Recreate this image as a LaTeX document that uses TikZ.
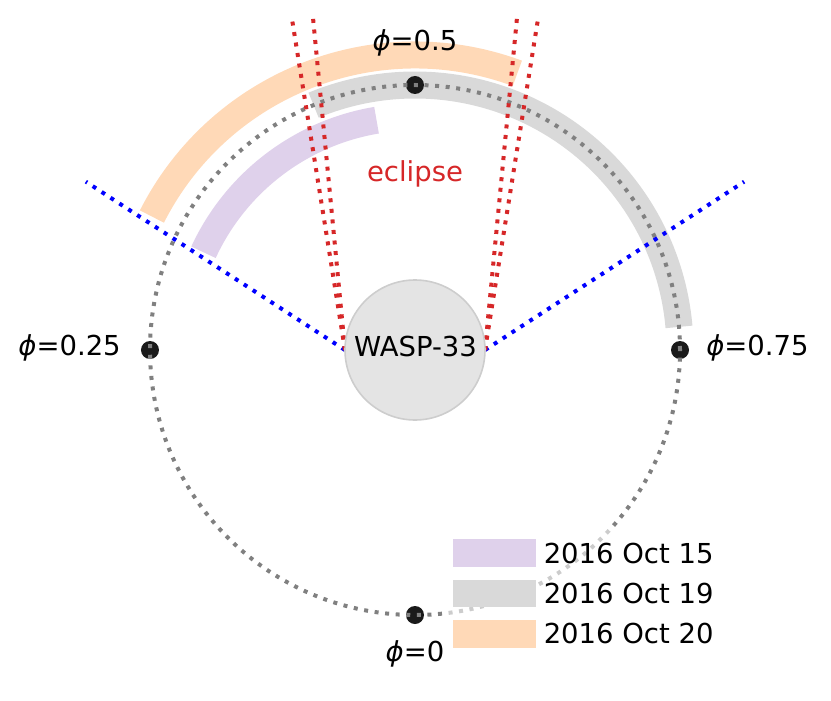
\documentclass[tikz,border=0pt]{standalone}
\usepackage{fontspec}
\setmainfont{DejaVu Sans}[ItalicFont={DejaVu Sans Oblique}]
\definecolor{orbitgray}{HTML}{808080}
\definecolor{tabred}{HTML}{D62728}
\definecolor{pureblue}{HTML}{0000FF}
\definecolor{bandorange}{HTML}{FFD9B7}
\definecolor{bandpurple}{HTML}{DFD1EB}
\definecolor{bandgray}{HTML}{D9D9D9}
\definecolor{starfill}{HTML}{E4E4E4}
\definecolor{staredge}{HTML}{CDCDCD}
\definecolor{dotblack}{HTML}{1A1A1A}
\begin{document}
\begin{tikzpicture}[x=0.75pt,y=0.75pt,
  dotline/.style={line width=3pt, dash pattern=on 3pt off 4.95pt},
  band/.style={line width=20.25pt},
  lbl/.style={inner sep=0pt, font=\fontsize{20.6pt}{24pt}\selectfont},
  phasedot/.style={circle, fill=dotblack, minimum size=13.5pt, inner sep=0pt},
  legpatch/.style={inner sep=0pt, minimum width=62.5pt, minimum height=20.6pt}]
\useasboundingbox (-415,-350) rectangle (416,350);
% bands
\draw[band, bandorange] (69.7:295) arc[start angle=69.7, end angle=153.1, radius=295];
\draw[band, bandpurple] (99.5:233) arc[start angle=99.5, end angle=155.2, radius=233];
\draw[band, bandgray] (5:265) arc[start angle=5, end angle=112.5, radius=265];
% phase points
\node[phasedot] (p0) at (0,-265) {};
\node[phasedot] (p25) at (-265,0) {};
\node[phasedot] (p5) at (0,265) {};
\node[phasedot] (p75) at (265,0) {};
% orbit
\draw[dotline, orbitgray] (0,0) circle[radius=265];
% limb points and line ends
\coordinate (L) at (-70,0);
\coordinate (R) at (70,0);
\draw[dotline, pureblue] (L) -- ++(147:309);
\draw[dotline, pureblue] (R) -- ++(33:309);
\draw[dotline, tabred] (L) -- ++(95.5:335);
\draw[dotline, tabred] (L) -- ++(99.1:335);
\draw[dotline, tabred] (R) -- ++(84.5:335);
\draw[dotline, tabred] (R) -- ++(80.9:335);
% star
\node[circle, fill=starfill, draw=staredge, line width=1.2pt, minimum size=105pt, inner sep=0pt] (star) at (0,0) {};
\node[lbl, anchor=base] (wasp) at (0.5,-6.7) {WASP-33};
% labels
\node[lbl, anchor=base] (l5) at (0,299) {\textit{ϕ}=0.5};
\node[lbl, anchor=base east] (l25) at (-294,-5.7) {\textit{ϕ}=0.25};
\node[lbl, anchor=base west] (l75) at (291,-5) {\textit{ϕ}=0.75};
\node[lbl, anchor=base] (l0) at (0,-311) {\textit{ϕ}=0};
\node[lbl, anchor=base, text=tabred] (ecl) at (0,168) {eclipse};
% legend frame (semi-transparent, no border)
\fill[white, fill opacity=0.6] (32,-178) rectangle (306,-306);
% legend
\node[legpatch, fill=bandpurple] (k1) at (79.3,-203) {};
\node[legpatch, fill=bandgray] (k2) at (79.3,-243.5) {};
\node[legpatch, fill=bandorange] (k3) at (79.3,-284) {};
\node[lbl, anchor=base west] (t1) at (128.5,-213.3) {2016 Oct 15};
\node[lbl, anchor=base west] (t2) at (128.5,-253.3) {2016 Oct 19};
\node[lbl, anchor=base west] (t3) at (128.5,-293.3) {2016 Oct 20};
\end{tikzpicture}
\end{document}
